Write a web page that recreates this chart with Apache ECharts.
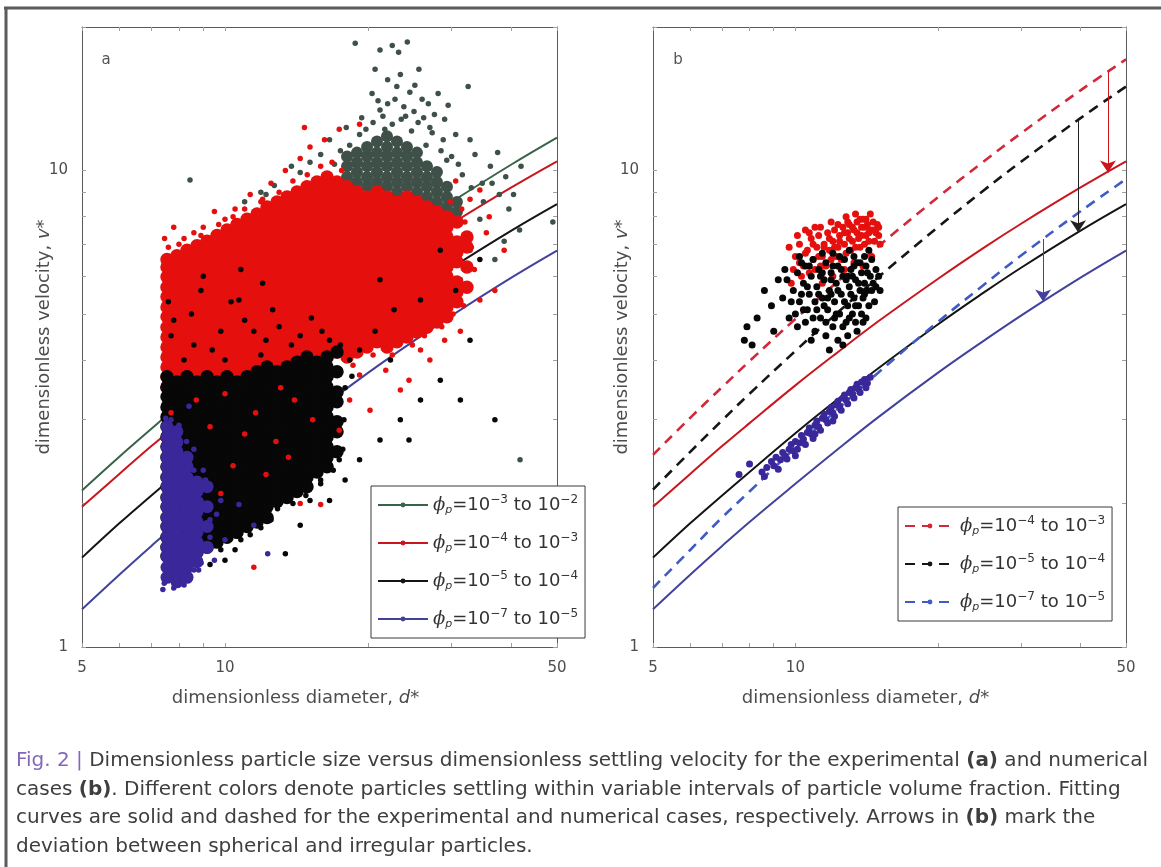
<!DOCTYPE html>
<html>
<head>
<meta charset="utf-8">
<script src="https://cdn.jsdelivr.net/npm/echarts@6/dist/echarts.min.js"></script>
<style>
  html, body { margin: 0; padding: 0; background: #fff; }
  #chart { width: 1161px; height: 867px; }
</style>
</head>
<body>
<div id="chart"></div>
<script>
// ---------------- axes ----------------
const xTickLabels = [5, 10, 50];
const yTickLabels = [1, 10];
const xTickMarks = [5, 6, 7, 8, 9, 10, 20, 30, 40, 50];
const yTickMarks = [1, 2, 3, 4, 5, 6, 7, 8, 9, 10, 20];

// ---------------- fitted curves (d* samples -> v*) ----------------
const curveD    = [5, 6, 7, 8, 10, 12, 15, 20, 25, 30, 40, 50];
const fitGray   = [2.13, 2.51, 2.87, 3.22, 3.87, 4.47, 5.30, 6.54, 7.62, 8.59, 10.28, 11.72];
const fitRed    = [1.97, 2.31, 2.64, 2.95, 3.54, 4.08, 4.83, 5.92, 6.88, 7.73, 9.20, 10.45];
const fitBlack  = [1.54, 1.82, 2.08, 2.33, 2.81, 3.25, 3.85, 4.75, 5.54, 6.25, 7.47, 8.50];
const fitBlue   = [1.20, 1.42, 1.63, 1.83, 2.20, 2.55, 3.04, 3.76, 4.39, 4.96, 5.95, 6.79];
const numRed    = [2.53, 3.03, 3.51, 3.98, 4.88, 5.73, 6.94, 8.78, 10.44, 11.97, 14.71, 17.10];
const numBlack  = [2.14, 2.57, 2.99, 3.40, 4.18, 4.93, 5.98, 7.60, 9.08, 10.43, 12.86, 15.00];
const numBlue   = [1.33, 1.60, 1.87, 2.12, 2.62, 3.09, 3.77, 4.81, 5.75, 6.63, 8.20, 9.59];

// deviation arrows in (b): d*, v* on dashed curve, v* on solid curve
const arrowD    = [33.4, 39.6, 45.8];
const arrowFrom = [7.18, 12.75, 16.1];
const arrowTo   = [5.31, 7.42, 9.9];

// legend ranges of particle volume fraction (exponents)
const rangesA = [['−3', '−2'], ['−4', '−3'], ['−5', '−4'], ['−7', '−5']];
const rangesB = [['−4', '−3'], ['−5', '−4'], ['−7', '−5']];

// ---------------- experimental particles (a) ----------------
// dense clouds, one entry per d* column: [d*, [v* ...]]
const redCoreA = [
  [7.55,[3.51,3.69,3.87,4.06,4.26,4.47,4.69,4.93,5.17,5.43,5.69,5.98,6.27,6.50]],
  [7.92,[3.43,3.60,3.78,3.96,4.16,4.37,4.58,4.81,5.05,5.30,5.56,5.83,6.12,6.43,6.62]],
  [8.32,[3.51,3.69,3.87,4.06,4.26,4.47,4.69,4.93,5.17,5.43,5.69,5.98,6.27,6.58,6.80]],
  [8.73,[3.43,3.60,3.78,3.96,4.16,4.37,4.58,4.81,5.05,5.30,5.56,5.83,6.12,6.43,6.74,6.95]],
  [9.17,[3.51,3.69,3.87,4.06,4.26,4.47,4.69,4.93,5.17,5.43,5.69,5.98,6.27,6.58,6.91,7.10]],
  [9.62,[3.43,3.60,3.78,3.96,4.16,4.37,4.58,4.81,5.05,5.30,5.56,5.83,6.12,6.43,6.74,7.08,7.30]],
  [10.1,[3.51,3.69,3.87,4.06,4.26,4.47,4.69,4.93,5.17,5.43,5.69,5.98,6.27,6.58,6.91,7.25,7.50]],
  [10.6,[3.60,3.78,3.96,4.16,4.37,4.58,4.81,5.05,5.30,5.56,5.83,6.12,6.43,6.74,7.08,7.43,7.70]],
  [11.13,[3.51,3.69,3.87,4.06,4.26,4.47,4.69,4.93,5.17,5.43,5.69,5.98,6.27,6.58,6.91,7.25,7.61,7.90]],
  [11.68,[3.60,3.78,3.96,4.16,4.37,4.58,4.81,5.05,5.30,5.56,5.83,6.12,6.43,6.74,7.08,7.43,7.80,8.10]],
  [12.26,[3.69,3.87,4.06,4.26,4.47,4.69,4.93,5.17,5.43,5.69,5.98,6.27,6.58,6.91,7.25,7.61,7.99,8.38]],
  [12.87,[3.78,3.96,4.16,4.37,4.58,4.81,5.05,5.30,5.56,5.83,6.12,6.43,6.74,7.08,7.43,7.80,8.18,8.59]],
  [13.51,[3.69,3.87,4.06,4.26,4.47,4.69,4.93,5.17,5.43,5.69,5.98,6.27,6.58,6.91,7.25,7.61,7.99,8.38,8.80]],
  [14.18,[3.78,3.96,4.16,4.37,4.58,4.81,5.05,5.30,5.56,5.83,6.12,6.43,6.74,7.08,7.43,7.80,8.18,8.59,9.01]],
  [14.88,[3.87,4.06,4.26,4.47,4.69,4.93,5.17,5.43,5.69,5.98,6.27,6.58,6.91,7.25,7.61,7.99,8.38,8.80,9.24]],
  [15.62,[3.96,4.16,4.37,4.58,4.81,5.05,5.30,5.56,5.83,6.12,6.43,6.74,7.08,7.43,7.80,8.18,8.59,9.01,9.46]],
  [16.4,[4.06,4.26,4.47,4.69,4.93,5.17,5.43,5.69,5.98,6.27,6.58,6.91,7.25,7.61,7.99,8.38,8.80,9.24,9.69]],
  [17.21,[4.16,4.37,4.58,4.81,5.05,5.30,5.56,5.83,6.12,6.43,6.74,7.08,7.43,7.80,8.18,8.59,9.01,9.46]],
  [18.07,[4.06,4.26,4.47,4.69,4.93,5.17,5.43,5.69,5.98,6.27,6.58,6.91,7.25,7.61,7.99,8.38,8.80,9.24]],
  [18.96,[4.16,4.37,4.58,4.81,5.05,5.30,5.56,5.83,6.12,6.43,6.74,7.08,7.43,7.80,8.18,8.59,9.01]],
  [19.91,[4.26,4.47,4.69,4.93,5.17,5.43,5.69,5.98,6.27,6.58,6.91,7.25,7.61,7.99,8.38,8.80]],
  [20.89,[4.37,4.58,4.81,5.05,5.30,5.56,5.83,6.12,6.43,6.74,7.08,7.43,7.80,8.18,8.59,9.01]],
  [21.93,[4.26,4.47,4.69,4.93,5.17,5.43,5.69,5.98,6.27,6.58,6.91,7.25,7.61,7.99,8.38,8.80]],
  [23.02,[4.37,4.58,4.81,5.05,5.30,5.56,5.83,6.12,6.43,6.74,7.08,7.43,7.80,8.18,8.59]],
  [24.16,[4.47,4.69,4.93,5.17,5.43,5.69,5.98,6.27,6.58,6.91,7.25,7.61,7.99,8.38,8.80]],
  [25.36,[4.58,4.81,5.05,5.30,5.56,5.83,6.12,6.43,6.74,7.08,7.43,7.80,8.18,8.59]],
  [26.62,[4.69,4.93,5.17,5.43,5.69,5.98,6.27,6.58,6.91,7.25,7.61,7.99,8.38]],
  [27.94,[4.81,5.05,5.30,5.56,5.83,6.12,6.43,6.74,7.08,7.43,7.80,8.18]],
  [29.33,[4.93,5.17,5.43,5.69,5.98,6.27,6.58,6.91,7.25,7.61,7.99]],
  [30.78,[5.30,5.56,5.83,6.43,6.74,7.08,7.80]],
  [32.31,[5.69,6.27,6.91,7.25]]
];
const blackCoreA = [
  [7.55,[1.55,1.62,1.70,1.79,1.87,1.97,2.06,2.17,2.27,2.39,2.50,2.63,2.76,2.90,3.04,3.19,3.35,3.51,3.69]],
  [7.92,[1.51,1.58,1.66,1.74,1.83,1.92,2.02,2.12,2.22,2.33,2.45,2.57,2.69,2.83,2.97,3.11,3.27,3.43,3.60]],
  [8.32,[1.55,1.62,1.70,1.79,1.87,1.97,2.06,2.17,2.27,2.39,2.50,2.63,2.76,2.90,3.04,3.19,3.35,3.51,3.69]],
  [8.73,[1.58,1.66,1.74,1.83,1.92,2.02,2.12,2.22,2.33,2.45,2.57,2.69,2.83,2.97,3.11,3.27,3.43,3.60]],
  [9.17,[1.62,1.70,1.79,1.87,1.97,2.06,2.17,2.27,2.39,2.50,2.63,2.76,2.90,3.04,3.19,3.35,3.51,3.69]],
  [9.62,[1.66,1.74,1.83,1.92,2.02,2.12,2.22,2.33,2.45,2.57,2.69,2.83,2.97,3.11,3.27,3.43,3.60]],
  [10.1,[1.70,1.79,1.87,1.97,2.06,2.17,2.27,2.39,2.50,2.63,2.76,2.90,3.04,3.19,3.35,3.51,3.69]],
  [10.6,[1.74,1.83,1.92,2.02,2.12,2.22,2.33,2.45,2.57,2.69,2.83,2.97,3.11,3.27,3.43,3.60]],
  [11.13,[1.79,1.87,1.97,2.06,2.17,2.27,2.39,2.50,2.63,2.76,2.90,3.04,3.19,3.35,3.51,3.69]],
  [11.68,[1.83,1.92,2.02,2.12,2.22,2.33,2.45,2.57,2.69,2.83,2.97,3.11,3.27,3.43,3.60,3.78]],
  [12.26,[1.87,1.97,2.06,2.17,2.27,2.39,2.50,2.63,2.76,2.90,3.04,3.19,3.35,3.51,3.69,3.87]],
  [12.87,[2.02,2.12,2.22,2.33,2.45,2.57,2.69,2.83,2.97,3.11,3.27,3.43,3.60,3.78]],
  [13.51,[2.06,2.17,2.27,2.39,2.50,2.63,2.76,2.90,3.04,3.19,3.35,3.51,3.69,3.87]],
  [14.18,[2.12,2.22,2.33,2.45,2.57,2.69,2.83,2.97,3.11,3.27,3.43,3.60,3.78,3.96]],
  [14.88,[2.17,2.27,2.39,2.50,2.63,2.76,2.90,3.04,3.19,3.35,3.51,3.69,3.87,4.06]],
  [15.62,[2.33,2.45,2.57,2.69,2.83,2.97,3.11,3.27,3.43,3.60,3.78,3.96]],
  [16.4,[2.39,2.50,2.63,2.76,2.90,3.04,3.19,3.35,3.51,3.69,3.87,4.06]],
  [17.21,[2.57,2.83,2.97,3.27,3.43,3.78,4.16]]
];
const blueCoreA = [
  [7.55,[1.40,1.47,1.55,1.62,1.70,1.79,1.87,1.97,2.06,2.17,2.27,2.39,2.50,2.63,2.76,2.90]],
  [7.92,[1.37,1.44,1.51,1.58,1.66,1.74,1.83,1.92,2.02,2.12,2.22,2.33,2.45,2.57,2.69,2.83]],
  [8.32,[1.40,1.47,1.55,1.62,1.70,1.79,1.87,1.97,2.06,2.17,2.27,2.39,2.50]],
  [8.73,[1.51,1.58,1.66,1.74,1.83,1.92,2.02,2.12,2.22]],
  [9.17,[1.62,1.79,1.97,2.17]]
];
const grayCoreA = [
  [18.07,[9.69,10.2,10.7]],
  [18.96,[9.46,9.92,10.4,10.9]],
  [19.91,[9.24,9.69,10.2,10.7,11.2]],
  [20.89,[9.46,9.92,10.4,10.9,11.5]],
  [21.93,[9.24,9.69,10.2,10.7,11.2,11.8]],
  [23.02,[9.01,9.46,9.92,10.4,10.9,11.5]],
  [24.16,[9.24,9.69,10.2,10.7,11.2]],
  [25.36,[9.01,9.46,9.92,10.4,10.9]],
  [26.62,[8.80,9.24,9.69,10.2]],
  [27.94,[8.59,9.01,9.46,9.92]],
  [29.33,[8.38,8.80,9.24]],
  [30.78,[8.18,8.59]]
];
// scattered particles around the clouds: [d*, v*]
const graySparseA = [[18.8,18.5],[22.5,18.3],[23.2,17.7],[21.2,17.9],[24.2,18.6],[23.4,15.9],[25.6,16.3],[32.5,15.0],
  [41.8,2.47],[8.44,9.55],[49.0,7.8],[21.2,13.4],[22.8,14.1],[23.5,12.8],[21.7,12.2],[24.7,12.1],[26.0,14.1],[27.6,13.1],
  [19.2,11.9],[17.5,11.0],[18.3,11.3],[29.0,12.8],[30.6,11.9],[32.8,11.6],[29.3,10.5],[31.6,9.8],[33.6,10.8],[34.8,9.4],
  [36.2,10.2],[37.8,8.9],[39.6,8.3],[38.7,7.1],[41.7,7.5],[37.0,6.5],[15.9,10.8],[14.4,9.9],[13.8,10.2],[12.7,9.3],
  [11.9,9.0],[15.1,10.4],[16.6,11.6],[12.2,8.9],[11.0,8.6],[34.4,7.9],[32.8,6.8],[31.3,5.9],[25.1,15.1],[20.4,14.5],
  [22.0,15.5],[28.1,14.5],[29.5,13.7],[19.4,12.9],[20.7,16.3],[37.5,10.9],[39.0,9.7],[40.5,8.9],[42.0,10.2],
  [17.0,10.3],[18.0,12.3],[26.5,11.3],[28.5,11.0],[30.0,10.7],[27.0,12.3],[24.0,13.0],[25.5,12.6],
  [20.5,12.6],[21.5,13.0],[22.5,12.5],[23.8,13.6],[25.0,13.3],[26.2,12.9],[27.3,12.0],[22.0,13.8],[24.5,14.6],
  [21.0,14.0],[23.0,15.0],[26.8,13.8],[19.8,12.2],[28.8,11.6],[31.0,10.3],[33.0,9.2],[35.0,8.6],[36.5,9.4]];
const redSparseA = [[11.5,1.47],[15.9,1.99],[14.4,2.0],[17.4,2.85],[18.3,3.3],[19.2,3.72],[20.2,3.14],[21.8,3.81],
  [23.4,3.46],[24.4,3.63],[25.8,4.2],[27.0,4.0],[29.0,4.4],[31.3,4.6],[34.4,5.35],[37.0,5.6],[38.7,6.8],[32.8,8.7],
  [34.4,9.1],[30.6,9.5],[7.46,7.2],[7.8,7.6],[8.0,7.0],[8.6,7.4],[9.5,8.2],[10.5,8.3],[11.3,8.9],[12.5,9.4],[13.4,10.0],
  [14.4,10.6],[15.1,11.2],[16.2,11.6],[17.4,12.2],[19.2,12.5],[14.7,12.3],[33.5,6.2],[35.5,7.4],[36.0,8.0],[31.5,8.3],
  [29.8,8.6],[9.0,7.6],[10.0,7.9],[12.0,8.7],
  [8.0,2.6],[9.3,2.9],[10.4,2.4],[11.6,3.1],[12.8,2.7],[14.0,3.3],[8.7,3.3],[10.0,3.4],[13.1,3.5],[15.3,3.0],
  [9.8,2.1],[12.2,2.3],[7.7,3.1],[11.0,2.8],[13.6,2.5],
  [7.6,6.9],[8.2,7.2],[8.9,7.3],[9.7,7.7],[10.4,8.0],[11.0,8.3],[11.9,8.6],[13.0,9.0],[13.9,9.5],[14.9,9.8],
  [15.9,10.2],[16.8,10.4],[17.6,10.0],[31.8,5.2],[33.0,6.9],[32.0,7.8],[30.2,5.0],[28.6,4.7],[18.6,3.9],[20.5,4.1],
  [22.5,4.1],[24.8,4.3],[26.3,4.5]];
const blackSparseA = [[13.4,1.57],[12.5,1.85],[14.4,1.80],[16.6,2.03],[17.9,2.24],[19.2,2.47],[21.2,2.72],[23.4,3.0],
  [25.8,3.3],[24.4,2.72],[28.4,3.63],[31.3,3.3],[37.0,3.0],[32.8,4.4],[19.2,4.2],[20.7,4.6],[22.7,5.1],[25.8,5.35],
  [30.6,5.6],[21.2,5.9],[18.3,4.0],[22.3,4.0],[11.0,4.85],[9.8,4.6],[8.6,4.3],[7.8,4.85],[12.2,4.4],[14.4,4.5],
  [16.6,4.4],[8.9,5.6],[10.7,5.35],[9.3,1.49],[10.5,1.6],[10.0,1.52],[8.4,1.42],[11.3,1.72],[15.9,2.24],[17.4,2.47],
  [15.1,2.03],[34.4,6.5],[28.4,6.8],
  [7.7,4.5],[8.5,5.0],[9.4,4.2],[10.3,5.3],[11.5,4.6],[12.6,5.1],[13.8,4.3],[15.2,4.9],[9.0,6.0],[10.8,6.2],[12.0,5.8],
  [8.2,4.0],[10.0,4.0],[11.9,4.1],[13.0,4.7],[16.0,4.6],[17.5,4.3],[7.6,5.3],
  [8.0,1.47],[8.9,1.50],[9.8,1.60],[10.8,1.68],[11.9,1.78],[12.9,1.95],[13.9,2.0],[14.8,2.08],[15.9,2.2],[16.9,2.35],
  [17.7,2.6],[17.8,3.0],[17.9,3.5],[18.5,3.7]];
const blueSparseA = [[12.3,1.57],[9.1,1.64],[9.3,1.85],[9.5,1.52],[8.9,2.03],[8.6,2.35],[9.1,2.24],[7.4,1.32],
  [7.8,1.33],[8.2,1.35],[7.7,3.0],[8.0,2.92],[8.6,2.6],[10.0,1.68],[10.7,1.99],[11.5,1.8],[8.8,1.45],[8.4,3.2],[9.8,2.03],
  [7.45,1.36],[8.1,1.38],[8.6,1.45],[9.3,1.7],[9.0,2.35],[8.3,2.7],[7.5,3.02],[9.6,1.9]];

// ---------------- numerical particles (b) ----------------
const redB = [[10.0,6.6],[10.2,7.0],[10.4,6.3],[10.6,6.8],[10.8,7.2],[10.9,6.5],[11.1,6.9],[11.2,7.3],[11.4,6.6],
  [11.5,7.0],[11.7,7.4],[11.8,6.8],[12.0,7.1],[12.1,7.5],[12.3,6.9],[12.4,7.3],[12.6,7.6],[12.7,7.0],[12.9,7.4],
  [13.0,7.7],[13.2,7.1],[13.3,7.5],[13.5,7.8],[13.6,7.2],[13.8,7.6],[13.9,7.9],[14.1,7.3],[14.2,7.7],[14.4,7.5],
  [14.6,7.8],[14.8,7.4],[15.0,7.6],[10.3,6.0],[10.7,6.1],[11.0,6.2],[11.3,6.3],[11.6,6.3],[11.9,6.5],[12.2,6.6],
  [12.5,6.5],[12.8,6.7],[13.1,6.8],[13.4,6.9],[13.7,6.9],[14.0,7.0],[14.3,7.1],[14.7,7.1],[9.9,6.2],[9.7,6.9],
  [10.1,7.3],[10.5,7.5],[11.0,7.6],[11.9,7.8],[12.8,8.0],[13.4,8.1],[14.4,8.1],[9.8,5.8],[12.0,6.0],[12.7,6.2],
  [13.3,6.4],[14.5,6.6],[15.1,7.0],[11.4,5.8],[13.9,6.3],
  [10.2,6.4],[10.5,6.7],[10.9,7.0],[11.2,6.6],[11.5,6.9],[11.8,7.2],[12.1,6.9],[12.4,7.1],[12.7,7.4],[13.0,7.2],
  [13.2,7.6],[13.5,7.4],[13.8,7.3],[14.0,7.6],[14.3,7.4],[14.6,7.5],[14.9,7.7],[15.0,7.3],[10.7,7.4],[11.3,7.6],
  [12.3,7.7],[12.9,7.8],[13.7,7.9],[14.1,7.9]];
const blackB = [[9.6,5.9],[9.9,5.6],[10.1,6.1],[10.2,5.3],[10.4,5.8],[10.5,6.3],[10.6,5.1],[10.7,5.5],[10.8,6.0],
  [10.9,6.5],[11.0,5.3],[11.1,5.7],[11.2,6.2],[11.3,4.9],[11.4,5.4],[11.5,5.9],[11.6,6.4],[11.7,5.1],[11.8,5.6],
  [11.9,6.1],[12.0,4.7],[12.1,5.3],[12.2,5.8],[12.3,6.3],[12.4,5.0],[12.5,5.5],[12.6,6.0],[12.7,6.5],[12.8,4.8],
  [12.9,5.2],[13.0,5.7],[13.1,6.2],[13.2,5.0],[13.3,5.4],[13.4,5.9],[13.5,6.4],[13.6,5.2],[13.7,5.6],[13.8,6.1],
  [13.9,5.4],[14.0,5.8],[14.1,6.3],[14.2,5.6],[14.4,6.0],[14.5,6.5],[14.6,5.8],[14.8,6.2],[15.0,6.0],[11.0,4.6],
  [11.6,4.5],[12.3,4.4],[12.9,4.5],[13.5,4.6],[14.1,4.9],[10.5,4.8],[10.0,5.0],[9.4,5.4],[9.2,5.9],[8.9,5.2],
  [8.6,5.6],[8.3,4.9],[7.9,4.7],[7.8,4.4],[8.1,4.3],[9.0,4.6],[12.0,6.7],[13.0,6.8],[11.4,6.7],[10.2,6.6],[14.3,6.8],
  [12.6,4.3],[13.9,4.8],[14.7,5.3],[15.1,5.6],[11.8,4.2],[10.8,4.4],[9.7,4.9],[12.2,5.0],[11.5,5.2],[13.4,5.2],
  [10.3,5.5],[12.8,5.9],[11.9,5.5],[13.2,6.0],
  [10.1,4.7],[10.4,5.1],[10.6,5.7],[10.9,4.9],[11.1,5.1],[11.2,5.5],[11.3,6.0],[11.6,4.8],[11.7,5.4],[11.9,5.9],
  [12.0,6.3],[12.1,4.9],[12.3,5.6],[12.5,6.2],[12.6,4.7],[12.7,5.3],[12.9,6.0],[13.0,4.9],[13.1,5.5],[13.3,6.3],
  [13.4,4.8],[13.6,5.8],[13.7,6.4],[13.8,5.0],[14.0,5.5],[14.2,6.1],[14.3,5.2],[14.5,5.6],[14.8,5.7],[10.7,6.3],
  [11.4,6.1],[12.4,6.6],[13.3,6.6],[14.0,6.6],[9.8,5.3],[9.5,6.2],[10.3,6.4]];
const blueB = [[8.7,2.38],[8.9,2.45],[9.0,2.40],[9.1,2.50],[9.3,2.47],[9.4,2.56],[9.5,2.52],[9.7,2.60],[9.8,2.66],
  [9.9,2.58],[10.0,2.70],[10.2,2.68],[10.3,2.78],[10.4,2.73],[10.6,2.82],[10.7,2.88],[10.8,2.80],[11.0,2.92],[11.1,2.98],
  [11.2,2.90],[11.4,3.02],[11.5,3.08],[11.6,3.00],[11.8,3.12],[11.9,3.18],[12.0,3.10],[12.2,3.22],[12.3,3.28],[12.4,3.20],
  [12.6,3.33],[12.7,3.38],[12.8,3.30],[13.0,3.42],[13.1,3.47],[13.2,3.40],[13.4,3.50],[13.5,3.56],[13.6,3.48],[13.8,3.60],
  [14.0,3.64],[14.2,3.58],[14.4,3.68],[9.2,2.36],[9.6,2.48],[10.1,2.60],[10.5,2.66],[10.9,2.74],[11.3,2.85],[11.7,2.95],
  [12.1,3.05],[12.5,3.14],[12.9,3.24],[13.3,3.33],[13.7,3.42],[14.1,3.50],[8.5,2.33],[8.6,2.28],[10.0,2.52],[11.0,2.80],
  [12.0,2.98],[8.0,2.42],[7.6,2.30]];

// ---------------- helpers ----------------
const FONT = 'DejaVu Sans';
const flat = cols => cols.flatMap(([d, vs]) => vs.map(v => [d, v]));
const zip = (xs, ys) => xs.map((x, i) => [x, ys[i]]);

const COLORS = {
  grayDot: '#3e5048', redDot: '#e5100e', blackDot: '#070707', blueDot: '#3a289a',
  grayLine: '#386449', redLine: '#c9161e', blackLine: '#141414', blueLine: '#42429c',
  redDash: '#d2283a', blackDash: '#161616', blueDash: '#3f5cc4'
};
const TEXT = '#4d4d4d';

function xAxes(grid) {
  const common = {
    type: 'log', logBase: 10, gridIndex: grid, min: 5, max: 50,
    splitLine: { show: false },
    axisLine: { show: true, lineStyle: { color: '#5a5a5a', width: 1 } },
    axisTick: { show: true, inside: true, length: 4, customValues: xTickMarks, lineStyle: { color: '#a0a0a0' } }
  };
  return [
    Object.assign({}, common, {
      position: 'bottom',
      axisLabel: { margin: 14, color: TEXT, fontFamily: FONT, fontSize: 15,
        formatter: v => (xTickLabels.includes(+(+v).toPrecision(3)) ? String(+(+v).toPrecision(3)) : '') },
      name: 'dimensionless diameter, {i|d}*',
      nameLocation: 'middle', nameGap: 42, nameMoveOverlap: false,
      nameTextStyle: { color: TEXT, fontFamily: FONT, fontSize: 18, padding: [0, 48, 0, 0],
        rich: { i: { fontStyle: 'italic', color: TEXT, fontFamily: FONT, fontSize: 18 } } }
    }),
    Object.assign({}, common, { position: 'top', axisLabel: { show: false } })
  ];
}
function yAxes(grid, gap) {
  const common = {
    type: 'log', logBase: 10, gridIndex: grid, min: 1, max: 20,
    splitLine: { show: false },
    axisLine: { show: true, lineStyle: { color: '#5a5a5a', width: 1 } },
    axisTick: { show: true, inside: true, length: 4, customValues: yTickMarks, lineStyle: { color: '#a0a0a0' } }
  };
  return [
    Object.assign({}, common, {
      position: 'left',
      axisLabel: { margin: 14, color: TEXT, fontFamily: FONT, fontSize: 15,
        formatter: v => (yTickLabels.includes(Math.round(v)) && Math.abs(v - Math.round(v)) < 0.01 ? String(Math.round(v)) : '') },
      name: 'dimensionless velocity, {i|v}*',
      nameLocation: 'middle', nameGap: gap, nameRotate: 90, nameMoveOverlap: false,
      nameTextStyle: { color: TEXT, fontFamily: FONT, fontSize: 18,
        rich: { i: { fontStyle: 'italic', color: TEXT, fontFamily: FONT, fontSize: 18 } } }
    }),
    Object.assign({}, common, { position: 'right', axisLabel: { show: false } })
  ];
}

function curve(name, xi, ys, color, dashed) {
  return {
    name, type: 'line', xAxisIndex: xi, yAxisIndex: xi, data: zip(curveD, ys),
    smooth: 0.4, symbol: 'circle', symbolSize: 5, showSymbol: false, silent: true, z: 1,
    itemStyle: { color },
    lineStyle: { color, width: dashed ? 2.6 : 2, type: dashed ? [10, 7] : 'solid' }
  };
}
function dots(data, xi, color, size) {
  return { type: 'scatter', xAxisIndex: xi, yAxisIndex: xi, data, symbol: 'circle', symbolSize: size,
    itemStyle: { color, opacity: 1 }, silent: true, z: 2 };
}

const phiLabel = ([lo, hi]) => `{phi|ϕ}{sub|p}{t|=10}{sup|${lo}}{t| to 10}{sup|${hi}}`;
const legendRich = {
  phi: { fontFamily: 'DejaVu Serif', fontStyle: 'italic', fontSize: 18, color: '#333', lineHeight: 22 },
  sub: { fontFamily: FONT, fontStyle: 'italic', fontSize: 11, color: '#333', lineHeight: 12, verticalAlign: 'bottom' },
  t:   { fontFamily: FONT, fontSize: 18, color: '#333', lineHeight: 22 },
  sup: { fontFamily: FONT, fontSize: 12, color: '#333', lineHeight: 12, verticalAlign: 'top' }
};
function legend(names, ranges, left, top) {
  return {
    data: names, orient: 'vertical', left, top, selectedMode: false,
    backgroundColor: '#fff', borderColor: '#3a3a3a', borderWidth: 1, borderRadius: 0,
    padding: [8, 7, 8, 6], itemGap: 16, itemWidth: 50, itemHeight: 6,
    formatter: n => phiLabel(ranges[names.indexOf(n)]),
    textStyle: { fontFamily: FONT, fontSize: 18, color: '#333', rich: legendRich }
  };
}

const namesA = ['A0', 'A1', 'A2', 'A3'];
const namesB = ['B0', 'B1', 'B2'];

const CAP_FONT = 'DejaVu Sans';
const CAP_SIZE = 20;
const captionStyles = {
  f: { fill: '#8467bd', fontFamily: CAP_FONT, fontSize: CAP_SIZE },
  t: { fill: '#3e3e3e', fontFamily: CAP_FONT, fontSize: CAP_SIZE },
  b: { fill: '#3e3e3e', fontFamily: CAP_FONT, fontSize: CAP_SIZE, fontWeight: 'bold' }
};
const captionLines = [
  '{f|Fig. 2 | }{t|Dimensionless particle size versus dimensionless settling velocity for the experimental }{b|(a)}{t| and numerical}',
  '{t|cases }{b|(b)}{t|. Different colors denote particles settling within variable intervals of particle volume fraction. Fitting}',
  '{t|curves are solid and dashed for the experimental and numerical cases, respectively. Arrows in }{b|(b)}{t| mark the}',
  '{t|deviation between spherical and irregular particles.}'
];

const option = {
  animation: false,
  backgroundColor: '#fff',
  grid: [
    { left: 82, top: 27, width: 475, height: 620 },
    { left: 653, top: 27, width: 473, height: 620 }
  ],
  xAxis: [...xAxes(0), ...xAxes(1)],
  yAxis: [...yAxes(0, 29), ...yAxes(1, 22)],
  legend: [legend(namesA, rangesA, 371, 486), legend(namesB, rangesB, 898, 507)],
  series: [
    // (a) fitted curves
    curve('A0', 0, fitGray, COLORS.grayLine, false),
    curve('A1', 0, fitRed, COLORS.redLine, false),
    curve('A2', 0, fitBlack, COLORS.blackLine, false),
    curve('A3', 0, fitBlue, COLORS.blueLine, false),
    // (a) particles
    dots(flat(grayCoreA), 0, COLORS.grayDot, 12),
    dots(graySparseA, 0, COLORS.grayDot, 5.5),
    dots(flat(redCoreA), 0, COLORS.redDot, 13.5),
    dots(flat(blackCoreA), 0, COLORS.blackDot, 13.5),
    dots(blackSparseA, 0, COLORS.blackDot, 5.5),
    dots(redSparseA, 0, COLORS.redDot, 5.5),
    dots(flat(blueCoreA), 0, COLORS.blueDot, 13),
    dots(blueSparseA, 0, COLORS.blueDot, 5.5),
    // (b) experimental fits (solid) and numerical fits (dashed)
    curve('bSolidRed', 2, fitRed, COLORS.redLine, false),
    curve('bSolidBlack', 2, fitBlack, COLORS.blackLine, false),
    curve('bSolidBlue', 2, fitBlue, COLORS.blueLine, false),
    curve('B0', 2, numRed, COLORS.redDash, true),
    curve('B1', 2, numBlack, COLORS.blackDash, true),
    curve('B2', 2, numBlue, COLORS.blueDash, true),
    // (b) particles
    dots(redB, 2, COLORS.redDot, 7),
    dots(blackB, 2, COLORS.blackDot, 7),
    dots(blueB, 2, COLORS.blueDot, 7),
    // (b) deviation arrows
    {
      type: 'lines', coordinateSystem: 'cartesian2d', xAxisIndex: 2, yAxisIndex: 2, silent: true, z: 3,
      symbol: ['none', 'arrow'], symbolSize: 12,
      data: arrowD.map((d, i) => ({
        coords: [[d, arrowFrom[i]], [d, arrowTo[i]]],
        lineStyle: { color: [COLORS.blueLine, '#222', COLORS.redLine][i], width: 1, opacity: 1 }
      }))
    }
  ],
  graphic: [
    { type: 'line', shape: { x1: 4, y1: 8, x2: 1161, y2: 8 }, style: { stroke: '#5b5b5b', lineWidth: 3 }, silent: true },
    { type: 'line', shape: { x1: 6, y1: 7, x2: 6, y2: 867 }, style: { stroke: '#5b5b5b', lineWidth: 3 }, silent: true },
    { type: 'text', x: 106, y: 60, style: { text: 'a', fill: '#555', fontFamily: FONT, fontSize: 15, align: 'center', verticalAlign: 'middle' } },
    { type: 'text', x: 678, y: 60, style: { text: 'b', fill: '#555', fontFamily: FONT, fontSize: 15, align: 'center', verticalAlign: 'middle' } },
    ...captionLines.map((t, i) => ({
      type: 'text', x: 16, y: 761 + i * 28.5,
      style: { text: t, rich: captionStyles, fill: '#3e3e3e', fontFamily: CAP_FONT, fontSize: CAP_SIZE, verticalAlign: 'middle' }
    }))
  ]
};

const chart = echarts.init(document.getElementById('chart'));
chart.setOption(option);
</script>
</body>
</html>
